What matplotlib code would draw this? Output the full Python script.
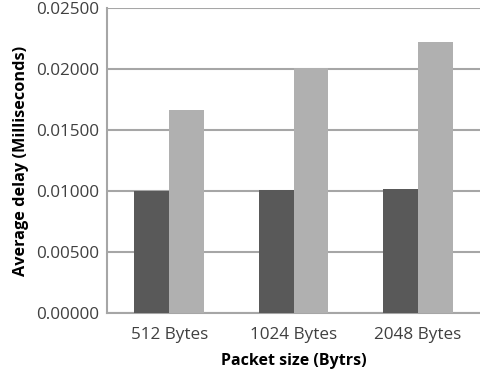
import matplotlib
matplotlib.use("Agg")
import matplotlib.pyplot as plt
import numpy as np

categories = ["512 Bytes", "1024 Bytes", "2048 Bytes"]
delay_dark = [0.01000, 0.01008, 0.01016]
delay_light = [0.01665, 0.02008, 0.02220]
yticks = [0.0, 0.005, 0.010, 0.015, 0.020, 0.025]

TEXT_CLR = "#404040"
GRID_CLR = "#a6a6a6"

plt.rcParams["font.family"] = ["Open Sans", "DejaVu Sans"]

fig = plt.figure(figsize=(4.8, 3.8), dpi=100)
ax = fig.add_axes([0.223, 0.176, 0.777, 0.803])

x = np.arange(len(categories))
w = 0.28
ax.bar(x - w / 2, delay_dark, w, color="#595959", zorder=3)
ax.bar(x + w / 2, delay_light, w, color="#b0b0b0", zorder=3)

ax.set_xlim(-0.5, 2.5)
ax.set_ylim(0, 0.025)
ax.set_yticks(yticks)
ax.set_yticklabels([f"{v:.5f}" for v in yticks])
ax.set_xticks(x)
ax.set_xticklabels(categories)
ax.tick_params(axis="both", length=0, colors=TEXT_CLR, labelsize=12.3)
ax.tick_params(axis="x", pad=10)
ax.tick_params(axis="y", pad=6)

ax.yaxis.grid(True, color=GRID_CLR, linewidth=1.5, zorder=0)
for side in ["top", "right"]:
    ax.spines[side].set_visible(False)
ax.spines["left"].set_color(GRID_CLR)
ax.spines["left"].set_linewidth(1.5)
ax.spines["bottom"].set_color(GRID_CLR)
ax.spines["bottom"].set_linewidth(1.5)

ax.set_xlabel("Packet size (Bytrs)", fontweight="bold", color="black", fontsize=11.5, labelpad=7)
ax.set_ylabel("Average delay (Milliseconds)", fontweight="bold", color="black", fontsize=11.7, labelpad=5)

fig.savefig("out.png", dpi=100)
